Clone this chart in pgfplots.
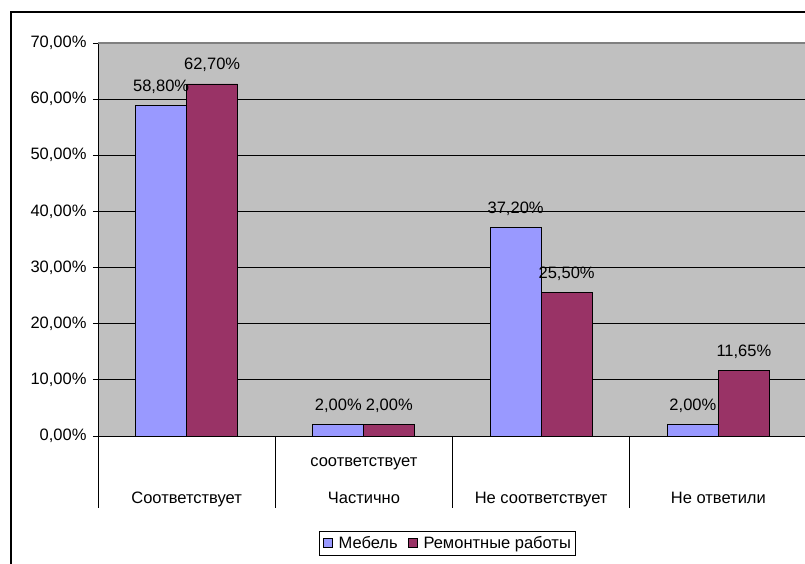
\documentclass[border=0pt]{standalone}
\usepackage{pgfplots}
\pgfplotsset{compat=1.18}
\usepackage{fontspec}
\setmainfont{Liberation Sans}
\definecolor{barblue}{HTML}{9999FF}
\definecolor{barred}{HTML}{993366}
\definecolor{plotgray}{HTML}{C0C0C0}
\definecolor{bordergray}{HTML}{808080}
\begin{document}
\begin{tikzpicture}[font=\fontsize{16.5}{19}\selectfont]
\useasboundingbox (0,0) rectangle (805pt,563pt);
\clip (0,0) rectangle (805pt,563pt);
\fill[white] (0,0) rectangle (805pt,563pt);
\draw[line width=1.6pt] (11pt,-30pt) rectangle (840pt,551pt);
\begin{axis}[
  at={(98pt,127pt)}, anchor=south west,
  scale only axis, width=709pt, height=393pt,
  xmin=0, xmax=4, ymin=0, ymax=70,
  clip=false,
  axis background/.style={fill=plotgray},
  axis x line*=bottom, axis y line*=left,
  axis line style={black, line width=0.8pt, -},
  ybar=0pt, bar width=51pt,
  xtick={0.5,1.5,2.5,3.5},
  xticklabels={Соответствует, Частично, Не соответствует, Не ответили},
  xtick style={draw=none},
  xticklabel style={anchor=base, yshift=-62pt},
  ytick={0,10,...,70},
  yticklabel={\pgfmathprintnumber[fixed,fixed zerofill,precision=2,use comma]{\tick}\%},
  yticklabel style={xshift=-3pt},
  /pgf/number format/assume math mode=true,
  tick align=outside, major tick length=5pt,
  ytick style={black, line width=0.8pt},
  ymajorgrids, major grid style={black, line width=0.8pt},
  nodes near coords={\pgfmathprintnumber[fixed,fixed zerofill,precision=2,use comma]{\pgfplotspointmeta}\%},
  nodes near coords style={anchor=base, yshift=14pt, black},
  legend columns=2,
  legend style={at={(axis description cs:0.4935,-0.2417)}, anchor=north, draw=black, line width=1pt, fill=white, inner sep=3pt,
    column sep=4pt,
    /tikz/every even column/.append style={column sep=8pt}},
  legend image code/.code={\draw[#1,draw=black,line width=0.8pt] (0pt,-4pt) rectangle (9pt,5pt);},
]
\addplot[fill=barblue, draw=black, line width=0.8pt] coordinates {(0.5,58.8) (1.5,2) (2.5,37.2) (3.5,2)};
\addplot[fill=barred, draw=black, line width=0.8pt] coordinates {(0.5,62.7) (1.5,2) (2.5,25.5) (3.5,11.65)};
\legend{Мебель, Ремонтные работы}
\draw[bordergray, line width=1.6pt] (axis cs:0,70) -- (axis cs:4,70);
\draw[black, line width=0.8pt] (axis cs:0,0) -- ++(0pt,-72pt);
\draw[black, line width=0.8pt] (axis cs:1,0) -- ++(0pt,-72pt);
\draw[black, line width=0.8pt] (axis cs:2,0) -- ++(0pt,-72pt);
\draw[black, line width=0.8pt] (axis cs:3,0) -- ++(0pt,-72pt);
\draw[black, line width=0.8pt] (axis cs:4,0) -- ++(0pt,-72pt);
\node[anchor=base, yshift=-30pt] at (axis cs:1.5,0) {соответствует};
\end{axis}
\end{tikzpicture}
\end{document}
